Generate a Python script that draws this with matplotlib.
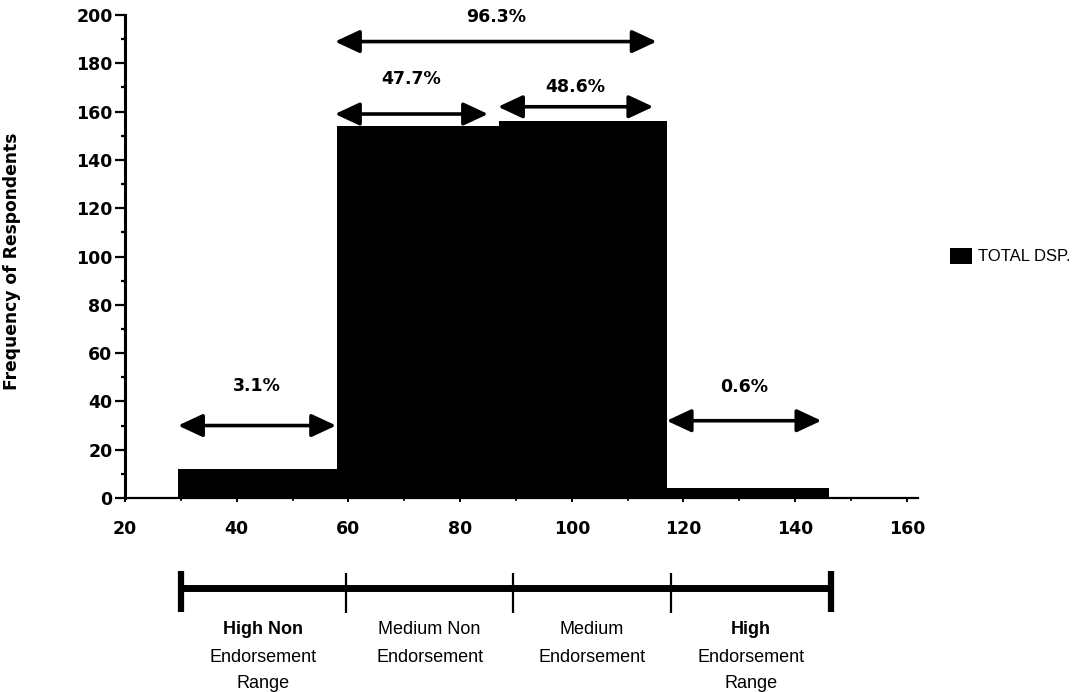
import matplotlib
matplotlib.use("Agg")
import matplotlib.pyplot as plt
from matplotlib.transforms import blended_transform_factory

# histogram data
bin_edges = [29.5, 58, 87, 117, 146]
counts = [12, 154, 156, 4]
series_name = "TOTAL DSP."

# percentage arrows: start, end, height, label, label height
arrow_x0 = [29.5, 57.6, 86.8, 57.6, 117]
arrow_x1 = [57.8, 85.0, 114.6, 115.2, 144.7]
arrow_y = [30, 159, 162, 189, 32]
arrow_labels = ["3.1%", "47.7%", "48.6%", "96.3%", "0.6%"]
label_y = [46.5, 173.4, 170.3, 199, 45.8]

# endorsement ranges under the axis
range_edges = [30, 59.6, 89.5, 117.7, 146.5]
range_heads = ["High Non", "Medium Non", "Medium", "High"]
range_head_bold = [True, False, False, True]
range_rest = [["Endorsement", "Range"], ["Endorsement"], ["Endorsement"], ["Endorsement", "Range"]]

W, H = 1081, 692
fig = plt.figure(figsize=(W / 100, H / 100), dpi=100)
ax = fig.add_axes([125 / W, 1 - 498 / H, (918 - 125) / W, (498 - 15) / H])

widths = [b - a for a, b in zip(bin_edges[:-1], bin_edges[1:])]
bars = ax.bar(bin_edges[:-1], counts, width=widths, align="edge", color="black",
              linewidth=0, label=series_name)

ax.set_xlim(20, 162)
ax.set_ylim(0, 200)
ax.set_xticks(range(20, 161, 20))
ax.set_xticks(range(30, 161, 10), minor=True)
ax.set_yticks(range(0, 201, 20))
ax.set_yticks(range(10, 200, 20), minor=True)

for s in ["top", "right"]:
    ax.spines[s].set_visible(False)
ax.spines["left"].set_linewidth(2.2)
ax.spines["bottom"].set_linewidth(1.6)

tick_font = dict(family="DejaVu Sans", weight="bold", size=12.5)
ax.tick_params(axis="y", which="major", length=7, width=1.6, pad=2)
ax.tick_params(axis="y", which="minor", length=3, width=1.6)
ax.tick_params(axis="x", which="major", length=3, width=1.4, pad=13)
ax.tick_params(axis="x", which="minor", length=2, width=1.2)
for lab in ax.get_xticklabels() + ax.get_yticklabels():
    lab.set_fontproperties(tick_font)

ax.set_ylabel("Frequency of Respondents", fontsize=12.3, fontweight="bold",
              family="DejaVu Sans")
ax.yaxis.set_label_coords(-0.131, 0.49)

# double headed arrows with percentages
for x0, x1, y, txt, ty in zip(arrow_x0, arrow_x1, arrow_y, arrow_labels, label_y):
    ax.annotate("", xy=(x1, y), xytext=(x0, y),
                arrowprops=dict(arrowstyle="<|-|>,head_length=0.75,head_width=0.35",
                                mutation_scale=20, lw=2.6, color="black",
                                shrinkA=0, shrinkB=0))
    ax.text((x0 + x1) / 2, ty, txt, ha="center", va="center", **tick_font)

# legend
leg = ax.legend(loc="center left", bbox_to_anchor=(935 / W, 1 - 256 / H),
                bbox_transform=fig.transFigure, frameon=False,
                prop=dict(family="Liberation Sans", size=12),
                handlelength=1.3, handleheight=1.1, handletextpad=0.4)

# range bar below the axis
tr = blended_transform_factory(ax.transData, fig.transFigure)
fy = lambda px: 1 - px / H
ax.plot([range_edges[0], range_edges[-1]], [fy(588), fy(588)], color="black",
        lw=5, transform=tr, clip_on=False, solid_capstyle="butt")
for i, e in enumerate(range_edges):
    if i == 0 or i == len(range_edges) - 1:
        ax.plot([e, e], [fy(571), fy(612)], color="black", lw=4.5,
                transform=tr, clip_on=False, solid_capstyle="butt")
    else:
        ax.plot([e, e], [fy(573), fy(613)], color="black", lw=1.6,
                transform=tr, clip_on=False, solid_capstyle="butt")

line_px = [630, 657, 683]
for i, head in enumerate(range_heads):
    xc = (range_edges[i] + range_edges[i + 1]) / 2
    ax.text(xc, fy(line_px[0]), head, ha="center", va="center", transform=tr,
            family="Liberation Sans", size=13,
            weight="bold" if range_head_bold[i] else "normal")
    for j, line in enumerate(range_rest[i]):
        ax.text(xc, fy(line_px[j + 1]), line, ha="center", va="center",
                transform=tr, family="Liberation Sans", size=13)

fig.savefig("out.png", dpi=100)
